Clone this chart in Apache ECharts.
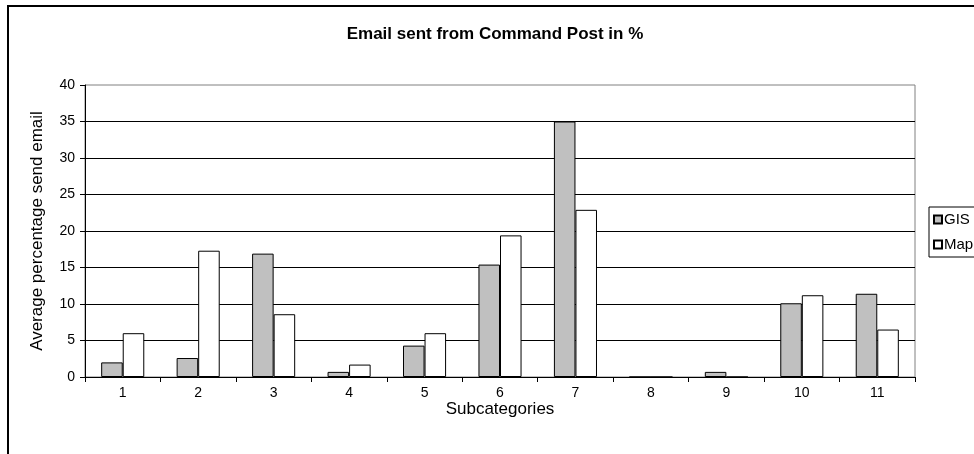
<!DOCTYPE html>
<html>
<head>
<meta charset="utf-8">
<script src="https://cdn.jsdelivr.net/npm/echarts@6/dist/echarts.min.js"></script>
<style>
  html, body { margin: 0; padding: 0; background: #fff; }
  #chart { width: 974px; height: 454px; }
</style>
</head>
<body>
<div id="chart"></div>
<script>
// Subcategory labels along the x axis
const categories = ['1', '2', '3', '4', '5', '6', '7', '8', '9', '10', '11'];
// Average percentage of email sent, per subcategory
const gisValues = [2.0, 2.6, 16.9, 0.7, 4.3, 15.4, 35.0, 0, 0.7, 10.1, 11.4];
const mapValues = [6.0, 17.3, 8.6, 1.7, 6.0, 19.4, 22.9, 0, 0, 11.2, 6.5];
// Y axis range and step
const yMin = 0, yMax = 40, yStep = 5;

const FONT = '"Liberation Sans", Arial, sans-serif';

const chart = echarts.init(document.getElementById('chart'), null, { renderer: 'canvas' });

chart.setOption({
  animation: false,
  backgroundColor: '#fff',
  title: {
    text: 'Email sent from Command Post in %',
    left: 490,
    top: 21,
    textAlign: 'center',
    textStyle: { fontFamily: FONT, fontSize: 17, fontWeight: 'bold', color: '#000' }
  },
  graphic: [{
    type: 'rect',
    shape: { x: 8, y: 6, width: 2000, height: 2000 },
    style: { fill: 'none', stroke: '#000', lineWidth: 2 },
    silent: true,
    z: 100
  }],
  legend: {
    orient: 'vertical',
    left: 929,
    top: 207,
    padding: [5, 6, 5, 4],
    itemGap: 10,
    itemWidth: 8,
    itemHeight: 8,
    icon: 'rect',
    backgroundColor: '#fff',
    borderColor: '#000',
    borderWidth: 1,
    textStyle: { fontFamily: FONT, fontSize: 15, color: '#000', padding: [0, 0, 0, -3] },
    data: ['GIS', 'Map']
  },
  grid: {
    left: 85, right: 59, top: 85, bottom: 77,
    show: true,
    borderColor: '#808080',
    borderWidth: 1,
    containLabel: false
  },
  xAxis: {
    type: 'category',
    data: categories,
    boundaryGap: true,
    name: 'Subcategories',
    nameLocation: 'middle',
    nameGap: 24,
    nameMoveOverlap: false,
    nameTextStyle: { fontFamily: FONT, fontSize: 17, color: '#000' },
    axisLine: { lineStyle: { color: '#000', width: 1 } },
    axisTick: { show: true, alignWithLabel: false, length: 5, lineStyle: { color: '#000' } },
    axisLabel: { fontFamily: FONT, fontSize: 14, color: '#000', margin: 9 },
    splitLine: { show: false }
  },
  yAxis: {
    type: 'value',
    min: yMin,
    max: yMax,
    interval: yStep,
    name: 'Average percentage send email',
    nameLocation: 'middle',
    nameGap: 39,
    nameMoveOverlap: false,
    nameTextStyle: { fontFamily: FONT, fontSize: 17, color: '#000' },
    axisLine: { show: true, lineStyle: { color: '#000', width: 1 } },
    axisTick: { show: true, length: 5, lineStyle: { color: '#000' } },
    axisLabel: { fontFamily: FONT, fontSize: 14, color: '#000', margin: 10 },
    splitLine: { show: true, showMinLine: false, showMaxLine: false, lineStyle: { color: '#000', width: 1 } }
  },
  series: [
    {
      name: 'GIS',
      type: 'bar',
      data: gisValues,
      barGap: '0%',
      barCategoryGap: '42.9%',
      itemStyle: { color: '#c0c0c0', borderColor: '#000', borderWidth: 1 }
    },
    {
      name: 'Map',
      type: 'bar',
      data: mapValues,
      barGap: '0%',
      barCategoryGap: '42.9%',
      itemStyle: { color: '#ffffff', borderColor: '#000', borderWidth: 1 }
    }
  ]
});
</script>
</body>
</html>
